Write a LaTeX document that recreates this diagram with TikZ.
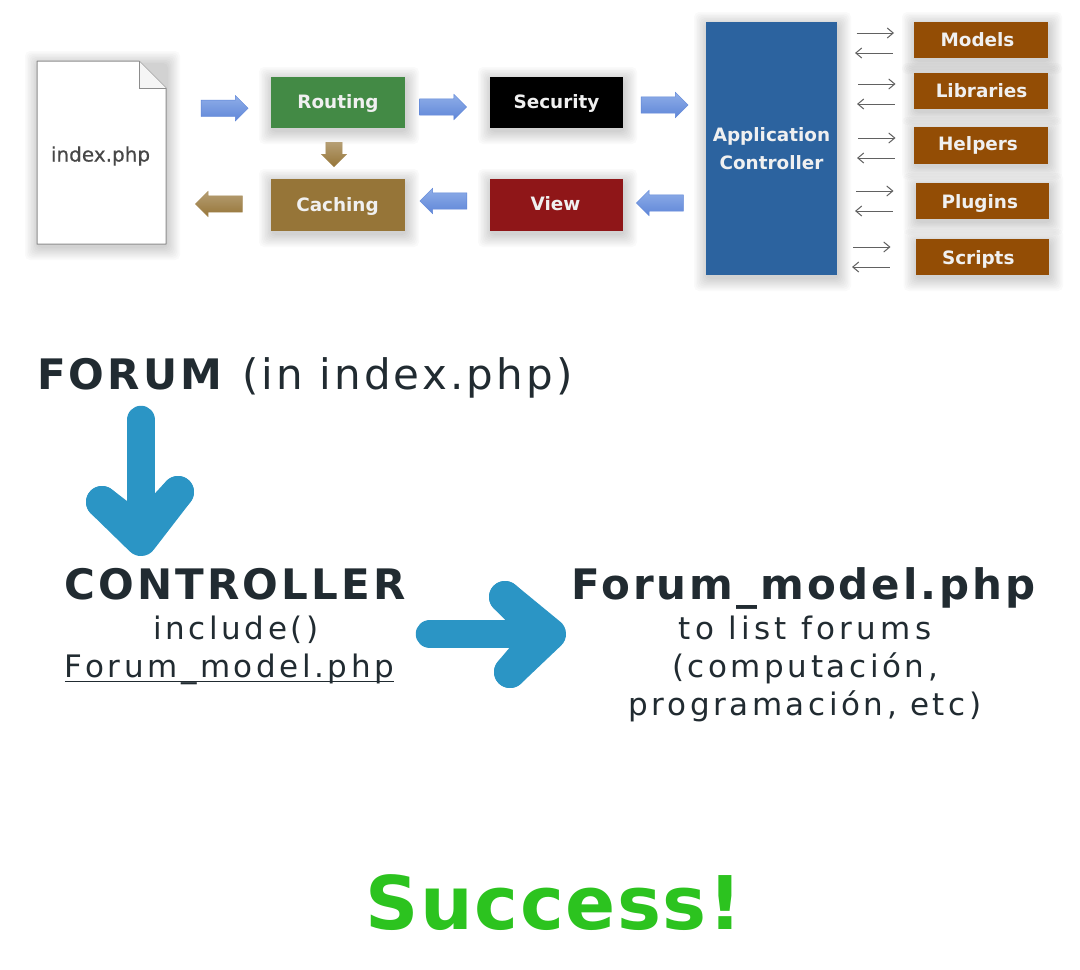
\documentclass[tikz,border=0pt]{standalone}
\usepackage{fontspec}
\setmainfont{DejaVu Sans}
\usetikzlibrary{shapes.arrows,arrows.meta,calc}
\definecolor{inkc}{HTML}{212B31}
\definecolor{fatblue}{HTML}{2B95C5}
\definecolor{okgreen}{HTML}{2CC31F}
\definecolor{rustc}{HTML}{934D05}
\definecolor{greenc}{HTML}{438A45}
\definecolor{tanc}{HTML}{967538}
\definecolor{redc}{HTML}{8F1618}
\definecolor{bluec}{HTML}{2C639F}
\definecolor{arrtop}{HTML}{8FAEE8}
\definecolor{arrbot}{HTML}{5F86D8}
\tikzset{
  x=1pt,y=-1pt,
  softedge/.style={fill=black,fill opacity=0.018,draw=none,rounded corners=5pt},
  boxn/.style={draw=none,inner sep=0pt},
  boxt/.style={inner sep=0pt,align=center,text=white!94!black,font=\fontsize{18.4}{27.5}\selectfont\bfseries},
  blockarr/.style={single arrow,inner sep=8pt,minimum height=47pt,minimum width=25pt,single arrow head extend=4.5pt,single arrow tip angle=90},
  bluearr/.style={blockarr,top color=arrtop,bottom color=arrbot,draw=arrbot,line width=.4pt},
  tanarr/.style={blockarr,top color=tanc!70!white,bottom color=tanc,draw=tanc!80!white,line width=.4pt},
  thinarr/.style={draw=black!62,line width=1pt,-{Straight Barb[length=6pt,width=10pt]}},
  fatshaft/.style={draw=fatblue,line width=28.5pt,line cap=round},
  fathead/.style={draw=fatblue,line width=32pt,line cap=round,line join=round},
  big/.style={anchor=base,text=inkc,inner sep=0pt,font=\fontsize{42}{50}\selectfont\addfontfeature{LetterSpace=7.5}},
  small/.style={anchor=base,text=inkc,inner sep=0pt,font=\fontsize{31}{38}\selectfont\addfontfeature{LetterSpace=11.5}},
}
\newcommand{\softrect}[4]{%
  \foreach \d in {13,11.5,10,8.5,7,5.5,4,2.5,1}{\path[softedge] (#1-\d+1,#2-\d+3) rectangle (#3+\d+1,#4+\d+3);}}
% name, x1,y1,x2,y2, colour, text, dx, dy
\newcommand{\softbox}[9]{%
  \node[boxn,fill=#6,minimum width={#4-#2},minimum height={#5-#3}] (#1) at ({(#2+#4)/2},{(#3+#5)/2}) {};
  \node[boxt] (#1t) at ({(#2+#4)/2+#8},{(#3+#5)/2+#9}) {#7};}
\newcommand{\twoarr}[5]{%
  \coordinate (#1a) at (#2,#4); \coordinate (#1b) at (#2+37.5,#4);
  \coordinate (#1c) at (#3+37.5,#5); \coordinate (#1d) at (#3,#5);
  \draw[thinarr] (#1a) -- (#1b);
  \draw[thinarr] (#1c) -- (#1d);}
\begin{document}
\begin{tikzpicture}
\useasboundingbox (0,0) rectangle (1080,970);
\fill[white] (0,0) rectangle (1080,970);
% soft shadows
\softrect{37}{61}{166}{244}
\softrect{271}{77}{405}{128}
\softrect{490}{77}{623}{128}
\softrect{271}{179}{405}{231}
\softrect{490}{179}{623}{231}
\softrect{706}{22}{837}{275}
\softrect{914}{22}{1048}{58}
\softrect{914}{73}{1048}{109}
\softrect{914}{127}{1048}{163.5}
\softrect{915.5}{183}{1049}{219}
\softrect{915.5}{239}{1049}{275}
% document icon
\draw[black!45,line width=1pt,fill=white,line join=round] (37,61) -- (139,61) -- (166,88) -- (166,244) -- (37,244) -- cycle;
\fill[black!4] (139,61) -- (166,88) -- (139,88) -- cycle;
\draw[black!45,line width=1pt] (139,61) -- (139,88) -- (166,88);
\node[inner sep=0pt,text=black!72,font=\fontsize{20}{24}\selectfont\addfontfeature{FakeBold=0.4}] (doc) at (100.5,156) {index.php};
% process boxes
\softbox{routing}{271}{77}{405}{128}{greenc}{Routing}{0}{1}
\softbox{security}{490}{77}{623}{128}{black}{Security}{0}{1}
\softbox{caching}{271}{179}{405}{231}{tanc}{Caching}{-0.5}{1.5}
\softbox{view}{490}{179}{623}{231}{redc}{View}{-1}{-1.5}
\softbox{app}{706}{22}{837}{275}{bluec}{Application\\Controller}{0}{0}
\softbox{models}{914}{22}{1048}{58}{rustc}{Models}{-3.5}{0}
\softbox{libraries}{914}{73}{1048}{109}{rustc}{Libraries}{0.5}{0}
\softbox{helpers}{914}{127}{1048}{163.5}{rustc}{Helpers}{-3}{0.5}
\softbox{plugins}{915.5}{183}{1049}{219}{rustc}{Plugins}{-2.5}{2.5}
\softbox{scripts}{915.5}{239}{1049}{275}{rustc}{Scripts}{-4}{2.5}
% block arrows
\node[bluearr] (a1) at (220.5,108.3) {};
\node[bluearr] (a2) at (439,107) {};
\node[bluearr] (a3) at (660.5,105) {};
\node[bluearr,shape border rotate=180] (a4) at (664,203) {};
\node[bluearr,shape border rotate=180] (a5) at (447.5,201) {};
\node[tanarr,shape border rotate=180] (a6) at (223,204) {};
\node[tanarr,shape border rotate=270,minimum height=24pt] (a7) at (334,150.5) {};
% thin arrows
\twoarr{m}{856.5}{855}{33}{53}
\twoarr{l}{858}{857}{84}{104}
\twoarr{h}{858}{857}{138}{158}
\twoarr{p}{856}{855}{191}{211}
\twoarr{s}{853}{852}{247}{267}
% lower text
\node[big,anchor=base west] (forum) at (37,389) {\textbf{FORUM}\ (in index.php)};
\node[big] (ctrl) at (236.5,599) {\textbf{CONTROLLER}};
\node[small] (incl) at (236,639) {include()};
\node[small] (fm) at (229.5,677) {Forum\_model.php};
\draw[inkc,line width=1pt] ($(fm.base west)+(0,4)$) -- ($(fm.base east)+(0,4)$);
\node[big,font=\fontsize{42}{50}\selectfont\addfontfeature{LetterSpace=7}] (fmb) at (805,599) {\textbf{Forum\_model.php}};
\node[small,font=\fontsize{31}{38}\selectfont\addfontfeature{LetterSpace=14}] (t1) at (805,639) {to list forums};
\node[small] (t2) at (805,677) {(computación,};
\node[small] (t3) at (805,715) {programación, etc)};
\node[anchor=base,inner sep=0pt,text=okgreen,font=\fontsize{74}{80}\selectfont\bfseries\addfontfeature{LetterSpace=2}] (succ) at (554,929) {Success!};
% hand drawn arrows
\coordinate (d0) at (141,420); \coordinate (d1) at (141,540); \coordinate (d2) at (141,532);
\coordinate (dl) at (102,502); \coordinate (dr) at (178,492);
\draw[fatshaft] (d0) -- (d1);
\draw[fathead] (dl) -- (d1) -- (dr);
\draw[fathead] (dl) -- (d2) -- (dr);
\coordinate (r0) at (430,634); \coordinate (r1) at (550,634); \coordinate (r2) at (542,634);
\coordinate (ru) at (505,597); \coordinate (rd) at (510,672);
\draw[fatshaft] (r0) -- (r1);
\draw[fathead] (ru) -- (r1) -- (rd);
\draw[fathead] (ru) -- (r2) -- (rd);
\end{tikzpicture}
\end{document}
